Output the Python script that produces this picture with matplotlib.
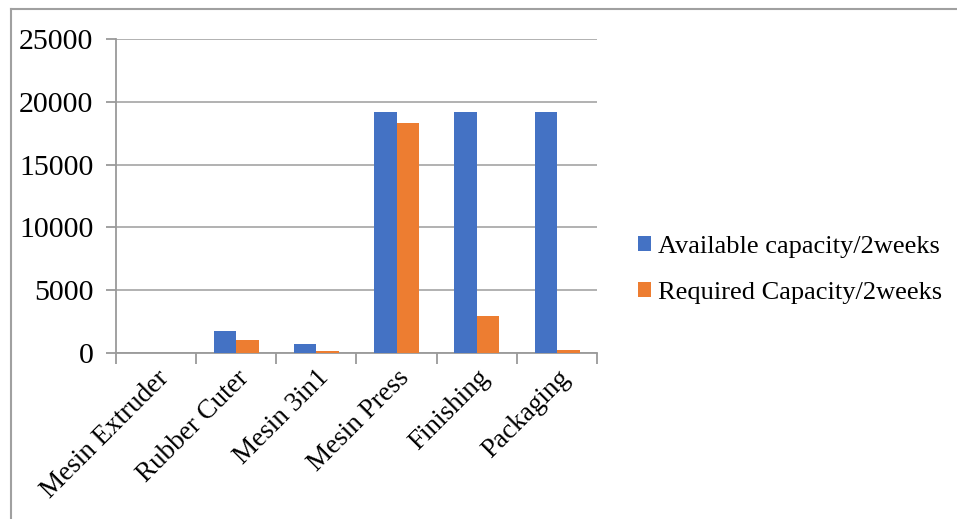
import numpy as np
import matplotlib.pyplot as plt
from matplotlib.lines import Line2D

# capacity per work station over a 2-week period
stations = ['Mesin Extruder', 'Rubber Cuter', 'Mesin 3in1', 'Mesin Press', 'Finishing', 'Packaging']
available = [10, 1750, 680, 19200, 19200, 19200]
required = [5, 1000, 120, 18300, 2900, 200]
series_names = ['Available capacity/2weeks', 'Required Capacity/2weeks']

plt.rcParams['font.family'] = ['Liberation Serif', 'DejaVu Serif']

fig = plt.figure(figsize=(9.57, 5.19), dpi=100)
ax = fig.add_axes([0.121, 0.320, 0.503, 0.605])

x = np.arange(len(stations))
w = 0.28
ax.bar(x - w / 2, available, w, color='#4472C4', label=series_names[0], zorder=3)
ax.bar(x + w / 2, required, w, color='#ED7D31', label=series_names[1], zorder=3)

ax.set_xlim(-0.5, len(stations) - 0.5)
ax.set_ylim(0, 25000)
ax.set_yticks(range(0, 25001, 5000))
ax.yaxis.grid(True, color='#ABABAB', linewidth=1.3, zorder=0)

ax.set_xticks(x)
ax.set_xticklabels(stations, rotation=45, ha='right', rotation_mode='anchor', fontsize=19.5)
ax.set_xticks(np.arange(-0.5, len(stations)), minor=True)
ax.tick_params(axis='x', which='major', length=0, pad=9)
ax.tick_params(axis='x', which='minor', length=8, color='#9A9A9A', width=1.3)
ax.tick_params(axis='y', labelsize=21.5, length=7, color='#9A9A9A', width=1.3, pad=9)

for side in ['top', 'right']:
    ax.spines[side].set_visible(False)
for side in ['left', 'bottom']:
    ax.spines[side].set_color('#9A9A9A')
    ax.spines[side].set_linewidth(1.3)

ax.legend(loc='center left', bbox_to_anchor=(1.035, 0.265), frameon=False,
          fontsize=19, handlelength=0.5, handleheight=0.5, handletextpad=0.25,
          labelspacing=0.9)

# outer frame of the chart (top and left edges)
fig.add_artist(Line2D([0.0115, 1.0], [0.983, 0.983], color='#A0A0A0', linewidth=1.5))
fig.add_artist(Line2D([0.0115, 0.0115], [0.0, 0.983], color='#A0A0A0', linewidth=1.5))

fig.savefig('out.png', dpi=100)
